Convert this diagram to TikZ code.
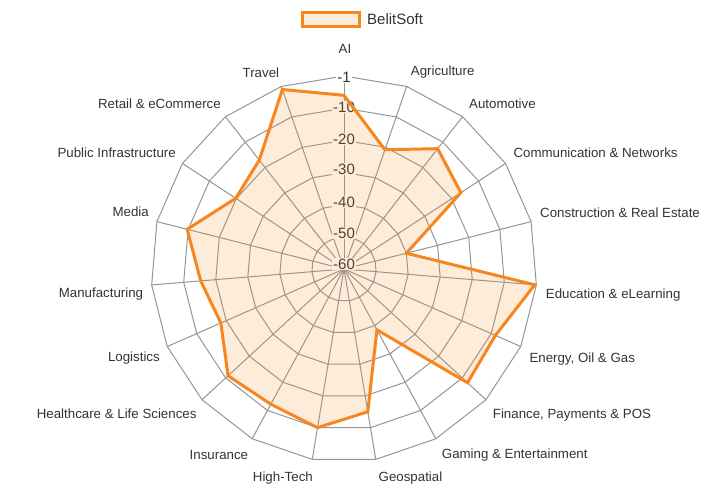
\documentclass[tikz,border=0pt]{standalone}
\usepackage{fontspec}
\setmainfont{Liberation Sans}
\definecolor{txt}{HTML}{333333}
\definecolor{gridc}{HTML}{959595}
\definecolor{orng}{HTML}{F7861F}
\tikzset{
  gridline/.style={draw=gridc, line width=1pt},
  catlabel/.style={text=txt, inner sep=0pt, font=\fontsize{13.3}{16}\selectfont},
  scalelabel/.style={text=txt, fill=white, inner sep=1pt, font=\fontsize{15}{18}\selectfont},
  series/.style={draw=orng, line width=3pt, line join=miter, fill=orng, fill opacity=0.16},
}
\begin{document}
\begin{tikzpicture}[x=1pt,y=-1pt]
\useasboundingbox (0,0) rectangle (709,485);
\coordinate (C) at (344,269);
\begin{scope}[shift={(C)}]
  % spokes
  \foreach \k in {0,...,18} {
    \draw[gridline] (0,0) -- ({193*cos(90-\k*360/19)},{-193*sin(90-\k*360/19)});
  }
  % rings
  \foreach \i in {1,...,6} {
    \pgfmathsetmacro{\rr}{\i*193/6}
    \draw[gridline] plot[variable=\t, samples at={0,...,18}] ({\rr*cos(90-\t*360/19)},{-\rr*sin(90-\t*360/19)}) -- cycle;
  }
\end{scope}
% scale labels
\node[scalelabel] (s1)  at (344,77)  {-1};
\node[scalelabel] (s10) at (344,107) {-10};
\node[scalelabel] (s20) at (344,139) {-20};
\node[scalelabel] (s30) at (344,169) {-30};
\node[scalelabel] (s40) at (344,202) {-40};
\node[scalelabel] (s50) at (344,233) {-50};
\node[scalelabel] (s60) at (344,264) {-60};
% data
\begin{scope}[shift={(C)}]
  \foreach \k/\v in {0/5.40,1/3.92,2/4.74,3/4.34,4/2.00,5/5.95,6/5.14,7/5.22,8/2.15,9/4.50,10/5.00,11/4.78,12/4.90,13/4.18,14/4.47,15/5.03,16/4.02,17/4.29,18/5.90} {
    \coordinate (p\k) at ({\v*193/6*cos(90-\k*360/19)},{-\v*193/6*sin(90-\k*360/19)});
  }
\end{scope}
\path[series] (p0) -- (p1) -- (p2) -- (p3) -- (p4) -- (p5) -- (p6) -- (p7) -- (p8) -- (p9) -- (p10) -- (p11) -- (p12) -- (p13) -- (p14) -- (p15) -- (p16) -- (p17) -- (p18) -- cycle;
% category labels
\node[catlabel] (lAI) at (345,49) {AI};
\node[catlabel, anchor=west] (lAgr) at (410.7,72.3) {Agriculture};
\node[catlabel, anchor=west] (lAut) at (469,104) {Automotive};
\node[catlabel, anchor=west] (lCom) at (513.3,152.3) {Communication \& Networks};
\node[catlabel, anchor=west] (lCon) at (540,212.5) {Construction \& Real Estate};
\node[catlabel, anchor=west] (lEdu) at (545.7,295) {Education \& eLearning};
\node[catlabel, anchor=west] (lEne) at (529.3,359.3) {Energy, Oil \& Gas};
\node[catlabel, anchor=west] (lFin) at (492.7,415) {Finance, Payments \& POS};
\node[catlabel, anchor=west] (lGam) at (441.7,455) {Gaming \& Entertainment};
\node[catlabel, anchor=west] (lGeo) at (378.5,477.7) {Geospatial};
\node[catlabel, anchor=east] (lHig) at (313,477.7) {High-Tech};
\node[catlabel, anchor=east] (lIns) at (248.3,455) {Insurance};
\node[catlabel, anchor=east] (lHea) at (196.7,414) {Healthcare \& Life Sciences};
\node[catlabel, anchor=east] (lLog) at (160,358) {Logistics};
\node[catlabel, anchor=east] (lMan) at (143.3,294.3) {Manufacturing};
\node[catlabel, anchor=east] (lMed) at (149,211.7) {Media};
\node[catlabel, anchor=east] (lPub) at (176,152.3) {Public Infrastructure};
\node[catlabel, anchor=east] (lRet) at (221,104) {Retail \& eCommerce};
\node[catlabel, anchor=east] (lTra) at (279.3,72.3) {Travel};
% legend
\path[series] (302.7,12.3) rectangle (359.3,26.7);
\node[text=txt, inner sep=0pt, anchor=west, font=\fontsize{15}{18}\selectfont] (leg) at (367,19.5) {BelitSoft};
\end{tikzpicture}
\end{document}
